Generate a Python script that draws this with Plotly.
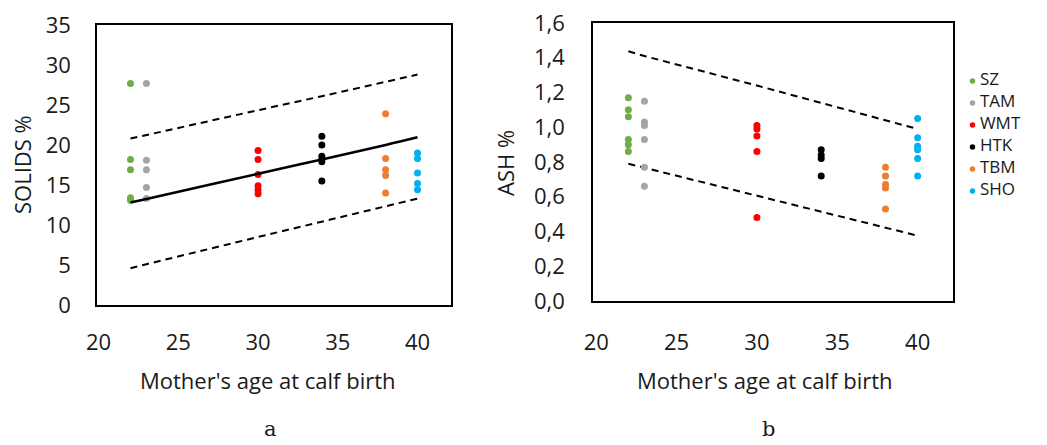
import plotly.graph_objects as go

# ---------------- data ----------------
breeds = ["SZ", "TAM", "WMT", "HTK", "TBM", "SHO"]
ages = [22, 23, 30, 34, 38, 40]
colors = ["#70AD47", "#A5A5A5", "#FF0000", "#000000", "#ED7D31", "#00B0F0"]

solids_sz = [27.7, 18.2, 16.9, 13.4, 13.1]
solids_tam = [27.7, 18.1, 16.9, 14.7, 13.3]
solids_wmt = [19.3, 18.2, 16.3, 14.9, 14.4, 13.9]
solids_htk = [21.1, 20.0, 18.6, 18.2, 17.9, 15.5]
solids_tbm = [23.9, 18.3, 16.9, 16.2, 14.0]
solids_sho = [19.0, 18.3, 16.5, 15.2, 14.4]

ash_sz = [1.17, 1.10, 1.06, 0.93, 0.90, 0.86]
ash_tam = [1.15, 1.03, 1.01, 0.93, 0.77, 0.66]
ash_wmt = [1.01, 0.99, 0.95, 0.86, 0.48]
ash_htk = [0.87, 0.84, 0.82, 0.72]
ash_tbm = [0.77, 0.72, 0.67, 0.65, 0.53]
ash_sho = [1.05, 0.94, 0.89, 0.87, 0.82, 0.72]

fit_age = [22, 23, 30, 34, 38, 40]
solids_fit = [12.8, 13.25, 16.4, 18.2, 20.0, 20.96]
solids_upper = [20.8, 21.25, 24.35, 26.1, 27.9, 28.8]
solids_lower = [4.6, 5.1, 8.5, 10.4, 12.3, 13.3]
ash_upper = [1.437, 1.41, 1.24, 1.14, 1.04, 0.99]
ash_lower = [0.79, 0.767, 0.606, 0.514, 0.422, 0.376]

solids_by_breed = [solids_sz, solids_tam, solids_wmt, solids_htk, solids_tbm, solids_sho]
ash_by_breed = [ash_sz, ash_tam, ash_wmt, ash_htk, ash_tbm, ash_sho]

x_ticks = [20, 25, 30, 35, 40]
solids_ticks = [0, 5, 10, 15, 20, 25, 30, 35]
ash_ticks = [0.0, 0.2, 0.4, 0.6, 0.8, 1.0, 1.2, 1.4, 1.6]

# ---------------- figure ----------------
W, H = 1047, 445
FONT = "Open Sans"
FS = 22
TXT = "#1a1a1a"

fig = go.Figure()

for name, age, col, vals in zip(breeds, ages, colors, solids_by_breed):
    fig.add_trace(go.Scatter(x=[age] * len(vals), y=vals, mode="markers",
                             marker=dict(color=col, size=7), name=name,
                             showlegend=False, xaxis="x", yaxis="y"))

fig.add_trace(go.Scatter(x=fit_age, y=solids_fit, mode="lines",
                         line=dict(color="black", width=2.6, shape="spline"),
                         showlegend=False, xaxis="x", yaxis="y"))
for band in (solids_upper, solids_lower):
    fig.add_trace(go.Scatter(x=fit_age, y=band, mode="lines",
                             line=dict(color="black", width=2, dash="7px,5px"),
                             showlegend=False, xaxis="x", yaxis="y"))

for band in (ash_upper, ash_lower):
    fig.add_trace(go.Scatter(x=fit_age, y=band, mode="lines",
                             line=dict(color="black", width=2, dash="7px,5px"),
                             showlegend=False, xaxis="x2", yaxis="y2"))

for name, age, col, vals in zip(breeds, ages, colors, ash_by_breed):
    fig.add_trace(go.Scatter(x=[age] * len(vals), y=vals, mode="markers",
                             marker=dict(color=col, size=7), name=name,
                             showlegend=False, xaxis="x2", yaxis="y2"))

# legend drawn on its own small axis: one row per breed
rows = list(range(len(breeds)))
fig.add_trace(go.Scatter(x=[0] * len(breeds), y=rows, mode="markers",
                         marker=dict(color=colors, size=5.5),
                         showlegend=False, hoverinfo="skip",
                         xaxis="x3", yaxis="y3"))
fig.add_trace(go.Scatter(x=[0.1] * len(breeds), y=rows, mode="text",
                         text=breeds, textposition="middle right",
                         textfont=dict(family=FONT, size=17, color=TXT),
                         showlegend=False, hoverinfo="skip",
                         xaxis="x3", yaxis="y3"))


def px_x(p):
    return p / W


def px_y(p):
    return 1 - p / H


axis_common = dict(showgrid=False, zeroline=False, showline=True, mirror=True,
                   linecolor="black", linewidth=1.6, ticks="", automargin=False,
                   tickfont=dict(family=FONT, size=FS, color=TXT))
hidden = dict(visible=False, showgrid=False, zeroline=False, automargin=False)

fig.update_layout(
    width=W, height=H,
    margin=dict(l=0, r=0, t=0, b=0),
    paper_bgcolor="white", plot_bgcolor="white",
    separators=", ",
    font=dict(family=FONT, size=FS, color=TXT),
    showlegend=False,
    xaxis=dict(domain=[px_x(97), px_x(451)], range=[19.9, 42.1], tickvals=x_ticks,
               anchor="y", ticklabelstandoff=17, **axis_common),
    yaxis=dict(domain=[px_y(305), px_y(25)], range=[0, 35], tickvals=solids_ticks,
               anchor="x", ticklabelstandoff=20, **axis_common),
    xaxis2=dict(domain=[px_x(593), px_x(953)], range=[19.8, 42.2], tickvals=x_ticks,
                anchor="y2", ticklabelstandoff=21, **axis_common),
    yaxis2=dict(domain=[px_y(301), px_y(23)], range=[0, 1.6], tickvals=ash_ticks,
                tickformat=".1f", anchor="x2", ticklabelstandoff=22, **axis_common),
    xaxis3=dict(domain=[px_x(968), px_x(1047)], range=[-0.06, 1], anchor="y3", **hidden),
    yaxis3=dict(domain=[px_y(202), px_y(70)], range=[5.5, -0.5], anchor="x3", **hidden),
)

annotations = [
    dict(text="SOLIDS %", x=px_x(22), y=px_y(165), textangle=-90),
    dict(text="ASH %", x=px_x(505), y=px_y(163), textangle=-90),
    dict(text="Mother's age at calf birth", x=px_x(268), y=px_y(380)),
    dict(text="Mother's age at calf birth", x=px_x(765), y=px_y(380)),
]
for a in annotations:
    fig.add_annotation(xref="paper", yref="paper", showarrow=False,
                       xanchor="center", yanchor="middle",
                       font=dict(family=FONT, size=FS, color=TXT), **a)

for lab, xp in (("a", 270), ("b", 768)):
    fig.add_annotation(text=lab, xref="paper", yref="paper", x=px_x(xp), y=px_y(429),
                       showarrow=False, xanchor="center", yanchor="middle",
                       font=dict(family="DejaVu Serif", size=21, color=TXT))

fig.write_html("out.html")
